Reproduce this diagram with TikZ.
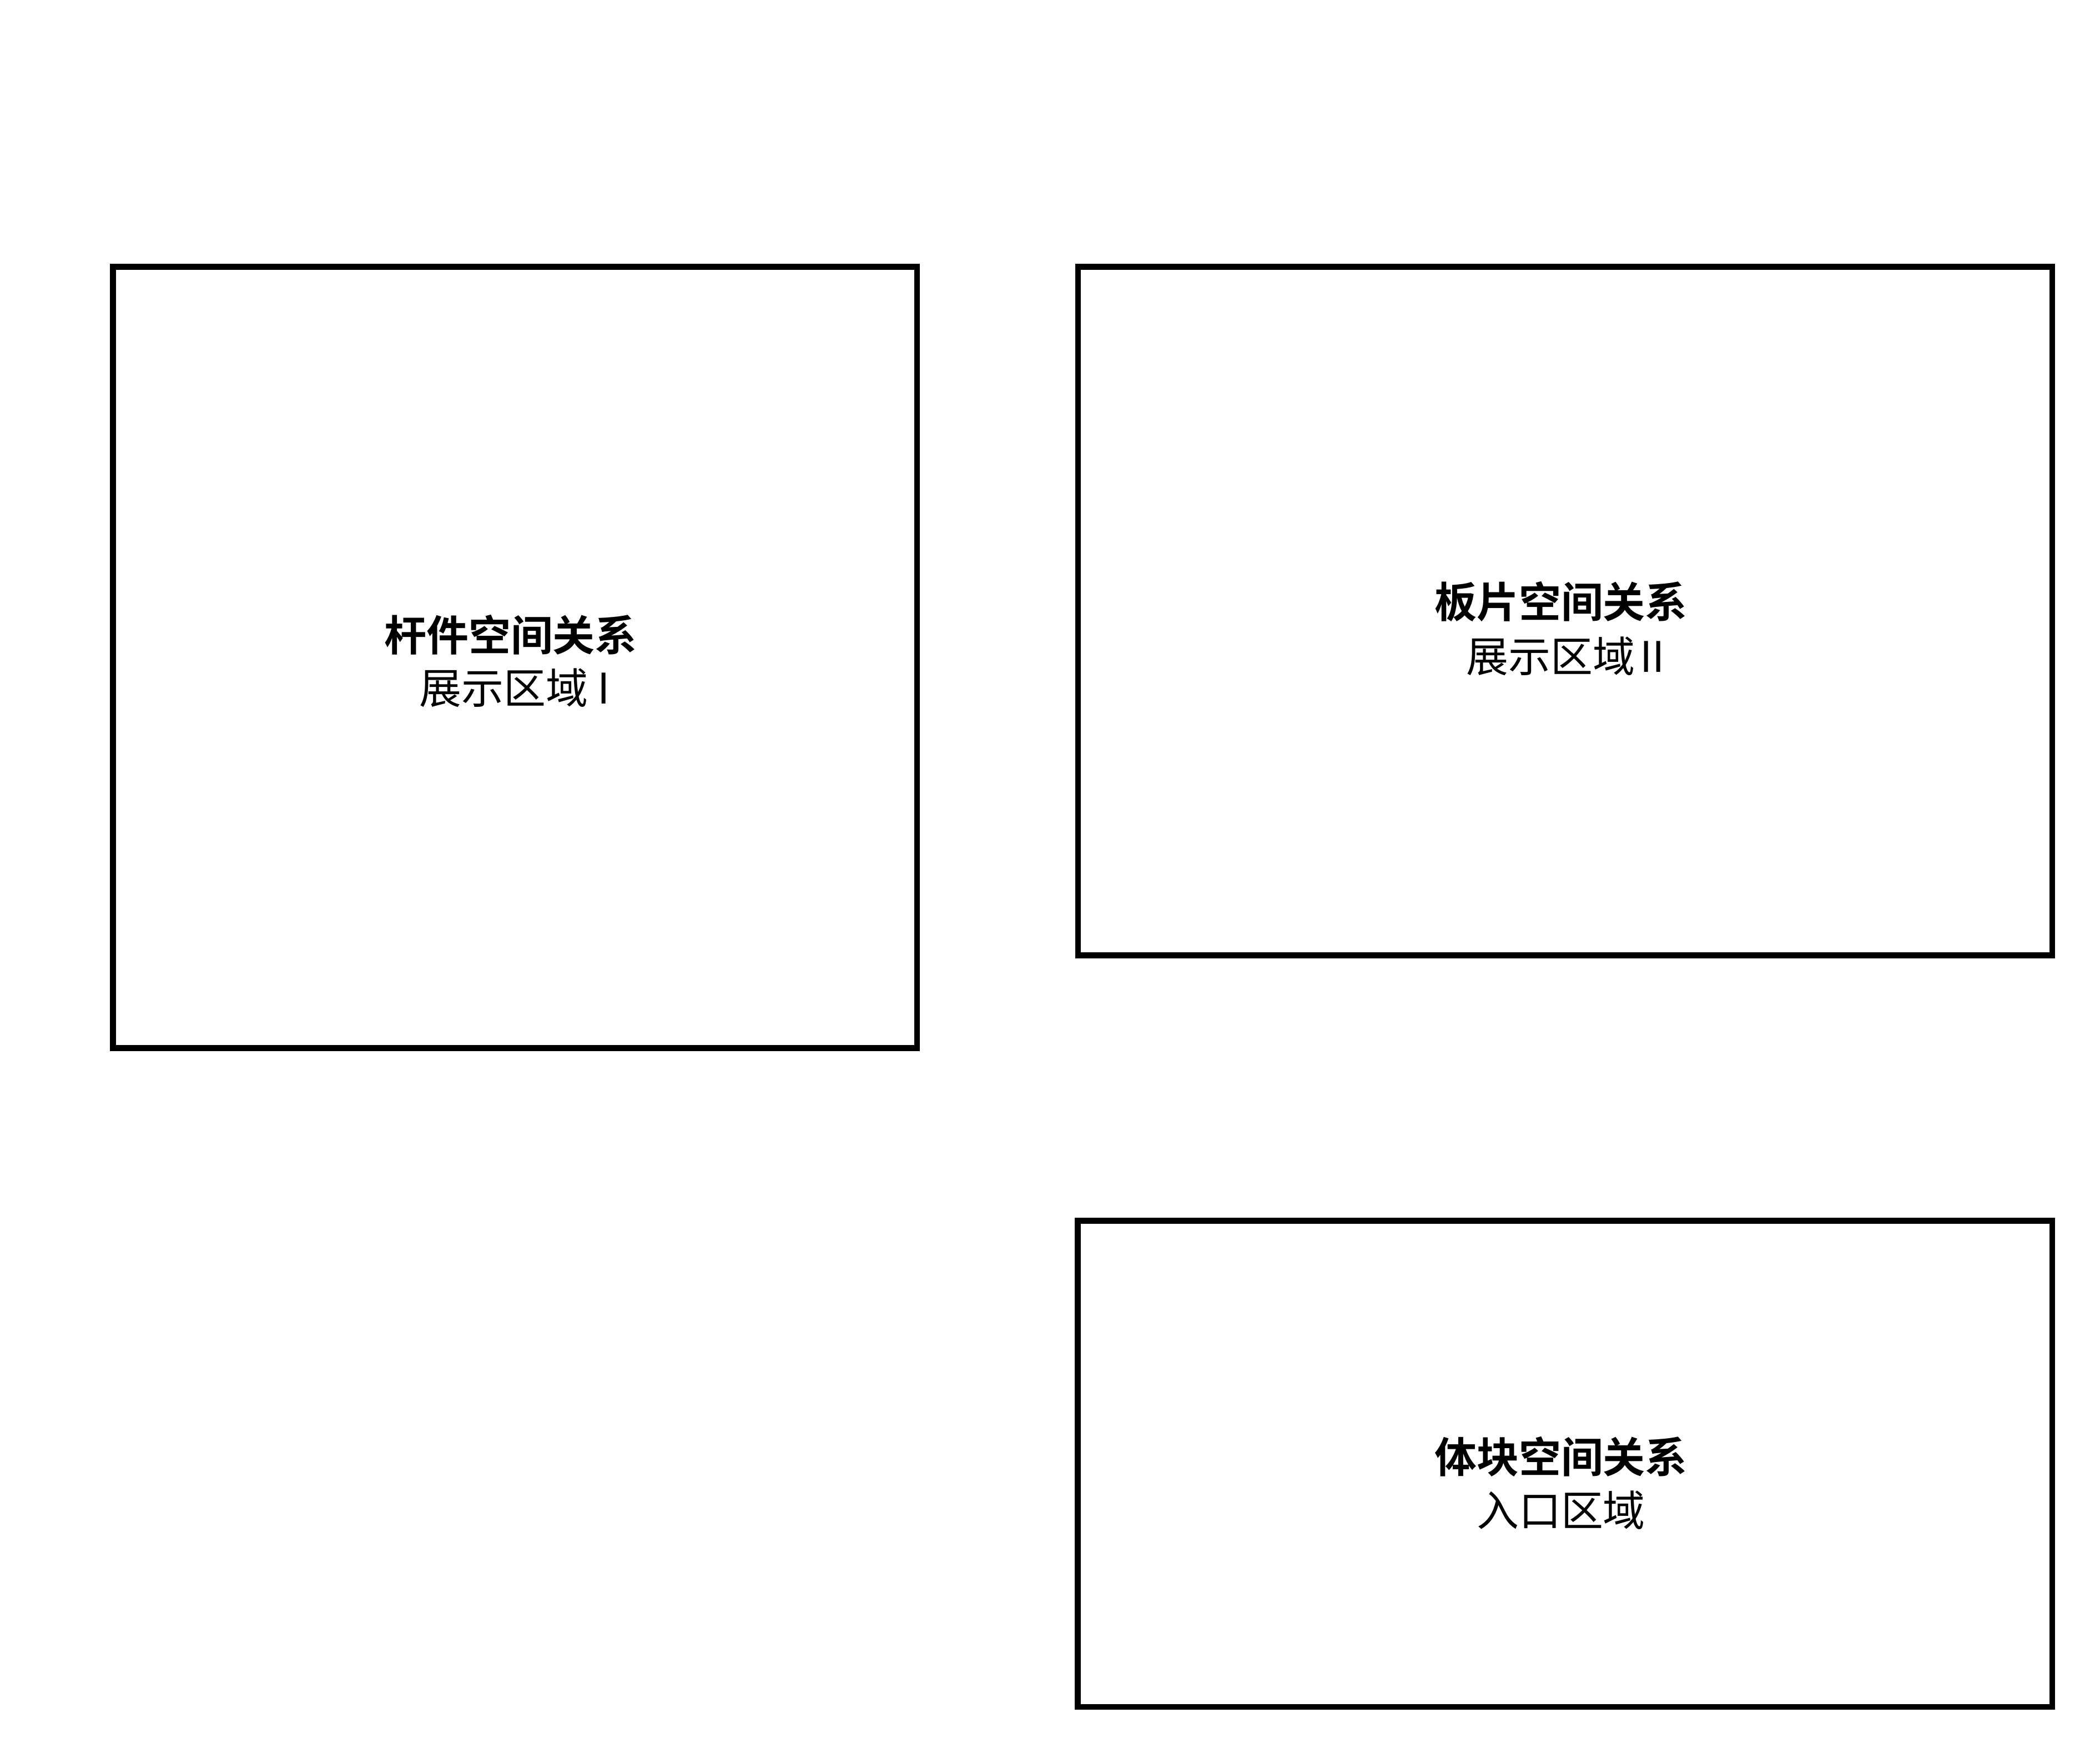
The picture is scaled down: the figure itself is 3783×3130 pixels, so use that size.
\documentclass[tikz,border=0pt]{standalone}
\usepackage{fontspec}
\newfontfamily\cjk[BoldFont={Noto Sans CJK SC Bold}]{Noto Sans CJK SC}
\begin{document}
\begin{tikzpicture}[x=0.01cm,y=-0.01cm,
  zone/.style={draw=black,line width=3pt,rectangle,inner sep=0pt,outer sep=0pt,anchor=north west},
  title/.style={font=\cjk\bfseries\fontsize{21.6pt}{26pt}\selectfont,inner sep=0pt,anchor=base},
  sub/.style={font=\cjk\fontsize{21.6pt}{26pt}\selectfont,inner sep=0pt,anchor=base}]
\useasboundingbox[fill=white] (0,0) rectangle (3783,3130);
\node[zone,minimum width=14.475cm,minimum height=14.06cm] (b1) at (203.5,480.5) {};
\node[zone,minimum width=17.54cm,minimum height=12.39cm] (b2) at (1942,480.5) {};
\node[zone,minimum width=17.545cm,minimum height=8.75cm] (b3) at (1941.5,2198.5) {};
\node[title] (t1) at (920,1172) {杆件空间关系};
\node[sub] (s1) at (927,1267) {展示区域 I};
\node[title] (t2) at (2812,1112) {板片空间关系};
\node[sub] (s2) at (2820,1210) {展示区域\kern0.12em II};
\node[title] (t3) at (2812,2652) {体块空间关系};
\node[sub] (s3) at (2812,2748) {入口区域};
\end{tikzpicture}
\end{document}
